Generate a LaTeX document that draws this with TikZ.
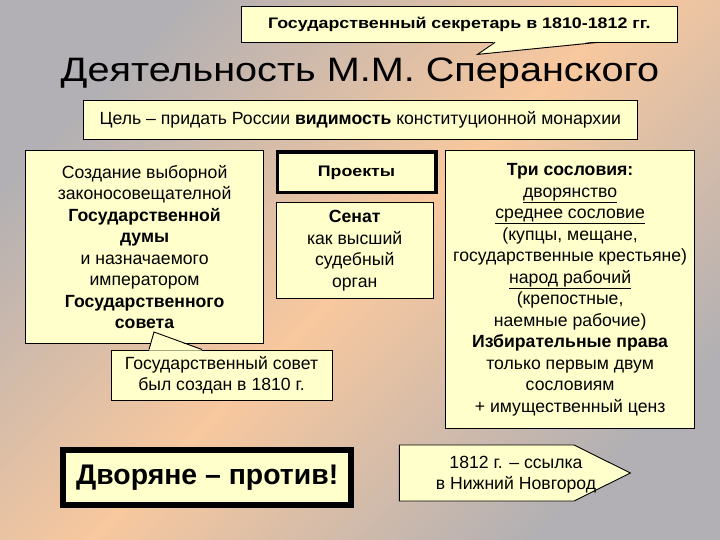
\documentclass[tikz,border=0pt]{standalone}
\usepackage{fontspec}
\setmainfont{Liberation Sans}
\newfontfamily\widefont[FakeStretch=1.17]{Liberation Sans}
\definecolor{bggrey}{RGB}{178,176,180}
\definecolor{bgpeach}{RGB}{248,200,158}
\definecolor{boxyellow}{RGB}{255,255,204}
\begin{document}
\begin{tikzpicture}[x=1bp,y=-1bp,
  box/.style={draw=black, line width=0.9bp, fill=boxyellow, inner sep=0pt, align=center, anchor=north west,
    font=\fontsize{17.7}{21.6}\selectfont},
  thickbox/.style={box, line width=3.5bp},
  tail/.style={draw=black, line width=0.9bp, line join=miter},
]
\shade[top color=bggrey, bottom color=bggrey, middle color=bgpeach, shading angle=45] (0,0) rectangle (720,540);
\useasboundingbox (0,0) rectangle (720,540);

% top callout
\node[box, minimum width=436.4bp, minimum height=36.4bp, font=\widefont\bfseries\fontsize{15.3}{18}\selectfont] (sec) at (240.6,6)
  {Государственный секретарь в 1810-1812 гг.};
\coordinate (secA) at (495,42.4);
\coordinate (secB) at (598,42.4);
\coordinate (secT) at (477.5,54.4);
\fill[boxyellow] ([yshift=1bp]secA) -- (secT) -- ([yshift=1bp]secB) -- cycle;
\draw[tail] (secA) -- (secT) -- (secB);

% title
\node[anchor=base, inner sep=0pt, font=\widefont\fontsize{34}{40}\selectfont] (title) at (360,81.7)
  {Деятельность М.М. Сперанского};

% goal
\node[box, minimum width=554.4bp, minimum height=39.6bp] (goal) at (82.6,99.9)
  {Цель – придать России \textbf{видимость} конституционной монархии};

% left
\node[box, minimum width=237.7bp, minimum height=192.5bp] (duma) at (25.3,150.5)
  {Создание выборной\\законосовещателной\\\textbf{Государственной}\\\textbf{думы}\\и назначаемого\\императором\\\textbf{Государственного}\\\textbf{совета}};

% projects
\node[thickbox, minimum width=158.5bp, minimum height=40.5bp, font=\widefont\bfseries\fontsize{15.3}{18}\selectfont] (proj) at (275.5,150.5)
  {Проекты};

% senate
\node[box, minimum width=157.5bp, minimum height=95.5bp] (senat) at (275.5,202.5)
  {\textbf{Сенат}\\как высший\\судебный\\орган};

% right
\node[box, minimum width=248.6bp, minimum height=277.5bp] (estates) at (445.4,150.5)
  {\textbf{Три сословия:}\\\underline{дворянство}\\\underline{среднее сословие}\\(купцы, мещане,\\государственные крестьяне)\\\underline{народ рабочий}\\(крепостные,\\наемные рабочие)\\\textbf{Избирательные права}\\только первым двум\\сословиям\\+ имущественный ценз};

% council callout
\node[box, minimum width=221bp, minimum height=50.5bp] (sovet) at (110.6,349.5)
  {Государственный совет\\был создан в 1810 г.};
\coordinate (sovA) at (149,349.5);
\coordinate (sovB) at (202,349.5);
\coordinate (sovT) at (154,332);
\fill[boxyellow] ([yshift=-1bp]sovA) -- (sovT) -- ([yshift=-1bp]sovB) -- cycle;
\draw[tail] (sovA) -- (sovT) -- (sovB);

% nobles against
\node[box, line width=6bp, minimum width=287.6bp, minimum height=55.5bp, font=\bfseries\fontsize{28.5}{32}\selectfont] (nobles) at (60.4,446.5)
  {Дворяне – против!};

% exile arrow
\draw[box, line width=0.9bp] (399.4,445) -- (574,445) -- (630.4,473) -- (574,501) -- (399.4,501) -- cycle;
\node[inner sep=0pt, align=center, font=\fontsize{17.7}{21.5}\selectfont] (exile) at (516,474.7)
  {1812 г. – ссылка\\в Нижний Новгород};
\end{tikzpicture}
\end{document}
